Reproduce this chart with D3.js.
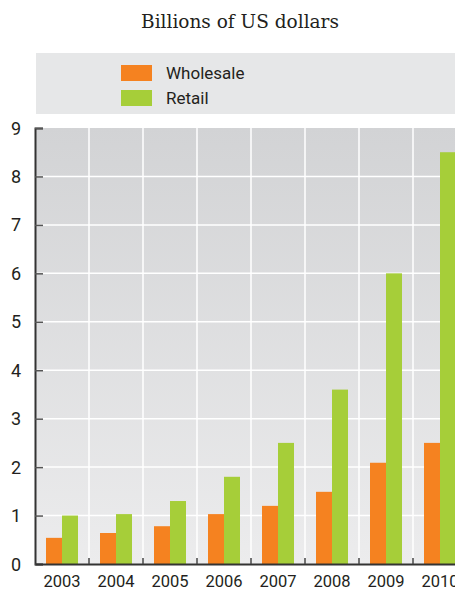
<!DOCTYPE html>
<html>
<head>
<meta charset="utf-8">
<title>Billions of US dollars</title>
<script src="https://cdn.jsdelivr.net/npm/d3@7/dist/d3.min.js"></script>
<style>
body { margin: 0; background: #fff; overflow: hidden; }
svg text { font-family: "Liberation Sans Narrow", "Arial Narrow", Roboto, sans-serif; fill: #231f20; }
</style>
</head>
<body>
<div id="chart"></div>
<script>
var years = ["2003", "2004", "2005", "2006", "2007", "2008", "2009", "2010"];
var wholesale = [0.54, 0.64, 0.78, 1.03, 1.2, 1.49, 2.09, 2.5];
var retail = [1.0, 1.03, 1.3, 1.8, 2.5, 3.6, 6.0, 8.5];
var seriesNames = ["Wholesale", "Retail"];
var colors = ["#f58220", "#a6ce39"];
var yTicks = [0, 1, 2, 3, 4, 5, 6, 7, 8, 9];

var width = 455, height = 591;
var plotLeft = 35, plotTop = 128, plotBottom = 564;

var svg = d3.select("#chart").append("svg")
	.attr("width", width)
	.attr("height", height);

var defs = svg.append("defs");
var grad = defs.append("linearGradient").attr("id", "bg")
	.attr("x1", 0).attr("y1", 0).attr("x2", 0).attr("y2", 1);
grad.append("stop").attr("offset", "0%").attr("stop-color", "#d2d3d5");
grad.append("stop").attr("offset", "100%").attr("stop-color", "#ececed");

var x0 = d3.scaleBand().domain(years).range([plotLeft, plotLeft + years.length * 54]);
var x1 = d3.scaleBand().domain(seriesNames).range([11, 43]);
var y = d3.scaleLinear().domain([0, 9]).range([plotBottom, plotTop]);

// title
svg.append("text")
	.attr("x", 240).attr("y", 28)
	.attr("text-anchor", "middle")
	.style("font-family", "'DejaVu Serif', 'Liberation Serif', serif")
	.style("font-size", "18.5px")
	.text("Billions of US dollars");

// legend box
svg.append("rect")
	.attr("x", 36).attr("y", 53)
	.attr("width", width - 36).attr("height", 61)
	.attr("fill", "#e6e7e8");
var leg = svg.selectAll(".leg").data(seriesNames).enter().append("g")
	.attr("transform", function (d, i) { return "translate(121," + (65 + i * 25) + ")"; });
leg.append("rect").attr("width", 31).attr("height", 16)
	.attr("fill", function (d, i) { return colors[i]; });
leg.append("text").attr("x", 45).attr("y", 14)
	.style("font-size", "17px")
	.text(function (d) { return d; });

// plot background
svg.append("rect")
	.attr("x", plotLeft).attr("y", plotTop)
	.attr("width", width - plotLeft).attr("height", plotBottom - plotTop)
	.attr("fill", "url(#bg)");

// horizontal grid
svg.selectAll(".hgrid").data(yTicks.slice(1, -1)).enter().append("line")
	.attr("x1", plotLeft).attr("x2", width)
	.attr("y1", function (d) { return y(d); })
	.attr("y2", function (d) { return y(d); })
	.attr("stroke", "#fff").attr("stroke-width", 1.5);

// vertical grid
svg.selectAll(".vgrid").data(years.slice(1)).enter().append("line")
	.attr("x1", function (d) { return x0(d); })
	.attr("x2", function (d) { return x0(d); })
	.attr("y1", plotTop).attr("y2", plotBottom)
	.attr("stroke", "#fff").attr("stroke-width", 1.5);

// bars
var groups = svg.selectAll(".year").data(years).enter().append("g")
	.attr("transform", function (d) { return "translate(" + x0(d) + ",0)"; });
groups.selectAll("rect")
	.data(function (d, i) { return [wholesale[i], retail[i]]; })
	.enter().append("rect")
	.attr("x", function (d, i) { return x1(seriesNames[i]); })
	.attr("width", x1.bandwidth())
	.attr("y", function (d) { return y(d); })
	.attr("height", function (d) { return y(0) - y(d); })
	.attr("fill", function (d, i) { return colors[i]; });

// y axis
var yAxis = svg.append("g")
	.attr("transform", "translate(" + plotLeft + ",0)")
	.call(d3.axisRight(y).tickValues(yTicks).tickSize(8).tickFormat(""));
yAxis.select(".domain").attr("stroke", "#333").attr("stroke-width", 2);
yAxis.selectAll(".tick line").attr("stroke", "#555").attr("stroke-width", 1.5);
svg.selectAll(".ylab").data(yTicks).enter().append("text")
	.attr("x", 16).attr("y", function (d) { return y(d) + 6.5; })
	.attr("text-anchor", "middle")
	.style("font-size", "18px")
	.text(function (d) { return d; });

// x axis
var xAxis = svg.append("g")
	.attr("transform", "translate(0," + plotBottom + ")")
	.call(d3.axisBottom(x0).tickSize(0).tickPadding(11));
xAxis.select(".domain").attr("stroke", "#333").attr("stroke-width", 2);
xAxis.selectAll(".tick text")
	.style("font-size", "16.5px")
	.style("font-family", "'Liberation Sans Narrow', 'Arial Narrow', Roboto, sans-serif")
	.attr("fill", "#231f20");
svg.selectAll(".xtick").data(years.slice(1)).enter().append("line")
	.attr("x1", function (d) { return x0(d); })
	.attr("x2", function (d) { return x0(d); })
	.attr("y1", plotBottom - 6).attr("y2", plotBottom)
	.attr("stroke", "#444").attr("stroke-width", 1.5);
</script>
</body>
</html>
